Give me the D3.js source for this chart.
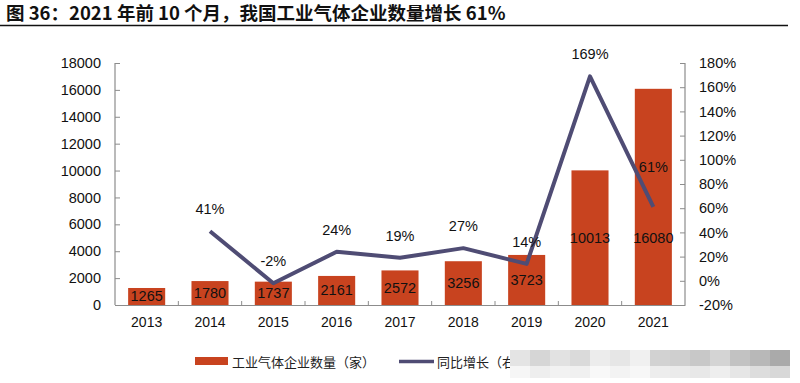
<!DOCTYPE html>
<html>
<head>
<meta charset="utf-8">
<script src="https://cdn.jsdelivr.net/npm/d3@7"></script>
<style>
  html, body { margin: 0; padding: 0; background: #fff; }
  svg { display: block; }
</style>
</head>
<body>
<svg id="chart" width="800" height="383"></svg>
<script>
// ---- data ----
const titleText = "图 36：2021 年前 10 个月，我国工业气体企业数量增长 61%";
const years = ["2013", "2014", "2015", "2016", "2017", "2018", "2019", "2020", "2021"];
const companyCounts = [1265, 1780, 1737, 2161, 2572, 3256, 3723, 10013, 16080];
const growthYears = ["2014", "2015", "2016", "2017", "2018", "2019", "2020", "2021"];
const growthPct = [41, -2, 24, 19, 27, 14, 169, 61];
const leftTicks = [0, 2000, 4000, 6000, 8000, 10000, 12000, 14000, 16000, 18000];
const rightTicks = [-20, 0, 20, 40, 60, 80, 100, 120, 140, 160, 180];
const barSeriesName = "工业气体企业数量（家）";
const lineSeriesName = "同比增长（右轴）";

// ---- styling ----
const barColor = "#C8431F";
const lineColor = "#4F4C74";
const axisColor = "#8c8c8c";
const latin = "Liberation Sans, Arial, sans-serif";
const cjk = "'Noto Sans CJK SC', sans-serif";

const svg = d3.select("#chart");

// title
svg.append("text")
  .attr("x", 6).attr("y", 20)
  .attr("font-family", cjk).attr("font-weight", "bold")
  .attr("font-size", 18.5).attr("fill", "#111")
  .text(titleText);
svg.append("line")
  .attr("x1", 0).attr("x2", 788).attr("y1", 25.5).attr("y2", 25.5)
  .attr("stroke", "#111").attr("stroke-width", 1.6);

// scales
const plotL = 115, plotR = 685, plotT = 63, plotB = 305;
const x = d3.scaleBand().domain(years).range([plotL, plotR]).padding(0);
const yL = d3.scaleLinear().domain([0, 18000]).range([plotB, plotT]);
const yR = d3.scaleLinear().domain([-20, 180]).range([plotB, plotT]);
const barW = x.bandwidth() * 0.585;
const cx = d => x(d) + x.bandwidth() / 2;

// bars
svg.append("g").selectAll("rect")
  .data(years.map((y, i) => ({ year: y, v: companyCounts[i] })))
  .join("rect")
  .attr("x", d => cx(d.year) - barW / 2)
  .attr("width", barW)
  .attr("y", d => yL(d.v))
  .attr("height", d => yL(0) - yL(d.v))
  .attr("fill", barColor);

// axes
const leftAxis = d3.axisLeft(yL).tickValues(leftTicks).tickSize(-5).tickPadding(14)
  .tickFormat(d3.format("d"));
const gL = svg.append("g").attr("transform", `translate(${plotL},0)`).call(leftAxis);
const rightAxis = d3.axisRight(yR).tickValues(rightTicks).tickSize(-5).tickPadding(14)
  .tickFormat(d => d + "%");
const gR = svg.append("g").attr("transform", `translate(${plotR},0)`).call(rightAxis);
const bottomAxis = d3.axisBottom(x).tickSize(0).tickPadding(12);
const gB = svg.append("g").attr("transform", `translate(0,${plotB})`).call(bottomAxis);

[gL, gR, gB].forEach(g => {
  g.select(".domain").attr("stroke", axisColor).attr("stroke-width", 1.2);
  g.selectAll(".tick line").attr("stroke", axisColor);
  g.selectAll("text").attr("font-family", latin).attr("font-size", 14.5).attr("fill", "#111");
});
gL.select(".domain").attr("d", `M0,${plotT}H0V${plotB}`);
gR.select(".domain").attr("d", `M0,${plotT}H0V${plotB}`);
gB.selectAll("text").attr("font-size", 14);
// category boundary ticks on x axis
svg.append("g").selectAll("line")
  .data(years.slice(1))
  .join("line")
  .attr("x1", d => x(d)).attr("x2", d => x(d))
  .attr("y1", plotB).attr("y2", plotB - 4)
  .attr("stroke", axisColor);

// bar labels
svg.append("g").selectAll("text")
  .data(years.map((y, i) => ({ year: y, v: companyCounts[i] })))
  .join("text")
  .attr("x", d => cx(d.year))
  .attr("y", d => (yL(Math.min(d.v, 10013)) + yL(0)) / 2 + 5)
  .attr("text-anchor", "middle")
  .attr("font-family", latin).attr("font-size", 14.5).attr("fill", "#111")
  .text(d => d.v);

// line
const lineData = growthYears.map((y, i) => ({ year: y, v: growthPct[i] }));
svg.append("path")
  .datum(lineData)
  .attr("fill", "none")
  .attr("stroke", lineColor)
  .attr("stroke-width", 4)
  .attr("stroke-linejoin", "round")
  .attr("d", d3.line().x(d => cx(d.year)).y(d => yR(d.v)));

// line labels
svg.append("g").selectAll("text")
  .data(lineData)
  .join("text")
  .attr("x", d => cx(d.year))
  .attr("y", (d, i) => yR(d.v) - (i === lineData.length - 1 ? 35 : 17))
  .attr("text-anchor", "middle")
  .attr("font-family", latin).attr("font-size", 14.5).attr("fill", "#111")
  .text(d => d.v + "%");

// legend
const lg = svg.append("g");
lg.append("rect").attr("x", 195).attr("y", 357).attr("width", 33).attr("height", 8).attr("fill", barColor);
lg.append("text").attr("x", 232).attr("y", 366.5)
  .attr("font-family", cjk).attr("font-size", 13).attr("fill", "#222")
  .text(barSeriesName);
lg.append("line").attr("x1", 399).attr("x2", 434).attr("y1", 361.5).attr("y2", 361.5)
  .attr("stroke", lineColor).attr("stroke-width", 3.5);
lg.append("text").attr("x", 437).attr("y", 366.5)
  .attr("font-family", cjk).attr("font-size", 13).attr("fill", "#222")
  .text(lineSeriesName);

// mosaic watermark cover
const mosaicTop = ["#e4e4e4", "#d6d6d6", "#e2e2e2", "#dadada", "#ececec", "#e6e6e6", "#f0f0f0", "#d2d2d2", "#cfcfcf", "#c8c8c8", "#d4d4d4", "#c2c2c2", "#b8b8b8", "#aaaaaa"];
const mosaicBot = ["#f6f6f6", "#eeeeee", "#f2f2f2", "#f0f0f0", "#f8f8f8", "#f3f3f3", "#f7f7f7", "#ededed", "#ebebeb", "#e8e8e8", "#eeeeee", "#e6e6e6", "#dddddd", "#d8d8d8"];
const mg = svg.append("g");
mosaicTop.forEach((c, i) => {
  mg.append("rect").attr("x", 510 + i * 20).attr("y", 350).attr("width", 20).attr("height", 16).attr("fill", c);
  mg.append("rect").attr("x", 510 + i * 20).attr("y", 366).attr("width", 20).attr("height", 12).attr("fill", mosaicBot[i]);
});
</script>
</body>
</html>
